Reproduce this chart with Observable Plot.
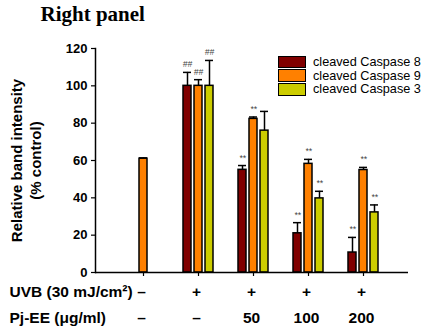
<!DOCTYPE html>
<html>
<head>
<meta charset="utf-8">
<script src="https://cdn.jsdelivr.net/npm/d3@7"></script>
<script src="https://cdn.jsdelivr.net/npm/@observablehq/plot@0.6"></script>
<style>
  html, body { margin: 0; padding: 0; background: #fff; }
  #wrap { position: relative; width: 422px; height: 326px; font-family: "Liberation Sans", Arial, sans-serif; }
  #legend { position: absolute; left: 278px; top: 55px; }
  .row { display: flex; align-items: center; height: 13.8px; }
  .sw { width: 28px; height: 12.5px; border: 1.5px solid #000; box-sizing: border-box; }
  .lab { margin-left: 7px; font-size: 12.7px; color: #000; white-space: nowrap; line-height: 12px; }
</style>
</head>
<body>
<div id="wrap"><div id="chart"></div><div id="legend"></div></div>
<script>
const groups = ["ctrl", "uvb", "pj50", "pj100", "pj200"];
const series = ["cleaved Caspase 8", "cleaved Caspase 9", "cleaved Caspase 3"];
const colors = ["#800000", "#ff8000", "#cccc00"];

const casp8 = [null, 100, 55, 21, 10.7];
const casp9 = [61, 100, 82.3, 58.2, 54.9];
const casp3 = [null, 100, 76, 39.7, 32.2];

const err8 = [null, 7.2, 2.3, 5.7, 8.1];
const err9 = [0.4, 3.3, 1, 2.4, 1.4];
const err3 = [null, 13.6, 10.3, 3.8, 4];

const sig8 = ["", "##", "**", "**", "**"];
const sig9 = ["", "##", "**", "**", "**"];
const sig3 = ["", "##", "", "**", "**"];

const uvbLabels = ["–", "+", "+", "+", "+"];
const pjLabels = ["–", "–", "50", "100", "200"];
const yTicks = [0, 20, 40, 60, 80, 100, 120];

const vals = [casp8, casp9, casp3];
const errs = [err8, err9, err3];
const sigs = [sig8, sig9, sig3];

const slot = (gi, si) => groups[gi] + "|" + si;
const slots = [];
groups.forEach((g, gi) => {
  series.forEach((s, si) => slots.push(slot(gi, si)));
  if (gi < groups.length - 1) { slots.push(g + "|gapA"); slots.push(g + "|gapB"); }
});

const rows = [];
groups.forEach((g, gi) => {
  series.forEach((s, si) => {
    const v = vals[si][gi];
    if (v == null) return;
    rows.push({slot: slot(gi, si), series: s, value: v, top: v + errs[si][gi], sig: sigs[si][gi]});
  });
});
const centerSlots = groups.map((g, gi) => slot(gi, 1));
const labelRow1 = groups.map((g, gi) => ({slot: centerSlots[gi], t: uvbLabels[gi]}));
const labelRow2 = groups.map((g, gi) => ({slot: centerSlots[gi], t: pjLabels[gi]}));

const sans = "'Liberation Sans', Arial, sans-serif";

const chart = Plot.plot({
  width: 422,
  height: 326,
  marginTop: 48,
  marginBottom: 54,
  marginLeft: 95,
  marginRight: 14,
  style: {fontFamily: sans, background: "#fff", overflow: "visible"},
  x: {domain: slots, range: [122.3, 382.7], paddingInner: 0.3, paddingOuter: 0.15, axis: null},
  y: {domain: [0, 120], axis: null},
  color: {domain: series, range: colors},
  marks: [
    Plot.barY(rows, {x: "slot", y: "value", fill: "series", stroke: "#000", strokeWidth: 1.5}),
    Plot.ruleX(rows, {x: "slot", y1: "value", y2: "top", stroke: "#000", strokeWidth: 1.5}),
    Plot.tickY(rows, {x: "slot", y: "top", stroke: "#000", strokeWidth: 1.5}),
    Plot.text(rows, {x: "slot", y: "top", text: "sig", dy: -5, fontSize: 8.5, fill: "#444", fontStyle: "italic", lineAnchor: "bottom"}),
    Plot.ruleY([0], {stroke: "#000", strokeWidth: 1.5}),
    Plot.frame({anchor: "left", stroke: "#000", strokeWidth: 1.5}),
    Plot.axisY({ticks: yTicks, tickSize: 4, tickPadding: 4, fontSize: 13, fontWeight: "bold", label: null, strokeWidth: 1.2}),
    Plot.axisX(centerSlots, {tickSize: 4, tickFormat: () => "", label: null, strokeWidth: 1.2}),
    Plot.text(["Relative band intensity"], {frameAnchor: "left", dx: -78, rotate: -90, fontSize: 15, fontWeight: "bold", textAnchor: "middle", lineAnchor: "middle"}),
    Plot.text(["(% control)"], {frameAnchor: "left", dx: -59, rotate: -90, fontSize: 15, fontWeight: "bold", textAnchor: "middle", lineAnchor: "middle"}),
    Plot.text(["Right panel"], {frameAnchor: "top-left", dx: -55, dy: -27.3, textAnchor: "start", lineAnchor: "bottom", fontSize: 21, fontWeight: "bold", fontFamily: "'Liberation Serif', 'Times New Roman', serif"}),
    Plot.text(["UVB (30 mJ/cm²)"], {frameAnchor: "bottom-left", dx: -86, dy: 24.6, textAnchor: "start", lineAnchor: "bottom", fontSize: 15.5, fontWeight: "bold"}),
    Plot.text(["Pj-EE (μg/ml)"], {frameAnchor: "bottom-left", dx: -86, dy: 50.6, textAnchor: "start", lineAnchor: "bottom", fontSize: 15.5, fontWeight: "bold"}),
    Plot.text(labelRow1, {x: "slot", text: "t", frameAnchor: "bottom", dx: -2, dy: 24.6, lineAnchor: "bottom", fontSize: 15.5, fontWeight: "bold"}),
    Plot.text(labelRow2, {x: "slot", text: "t", frameAnchor: "bottom", dx: -2, dy: 50.6, lineAnchor: "bottom", fontSize: 15.5, fontWeight: "bold"})
  ]
});
document.getElementById("chart").appendChild(chart);

const legend = document.getElementById("legend");
series.forEach((s, i) => {
  const row = document.createElement("div");
  row.className = "row";
  const sw = document.createElement("div");
  sw.className = "sw";
  sw.style.background = colors[i];
  const lab = document.createElement("div");
  lab.className = "lab";
  lab.textContent = s;
  row.appendChild(sw);
  row.appendChild(lab);
  legend.appendChild(row);
});
</script>
</body>
</html>
